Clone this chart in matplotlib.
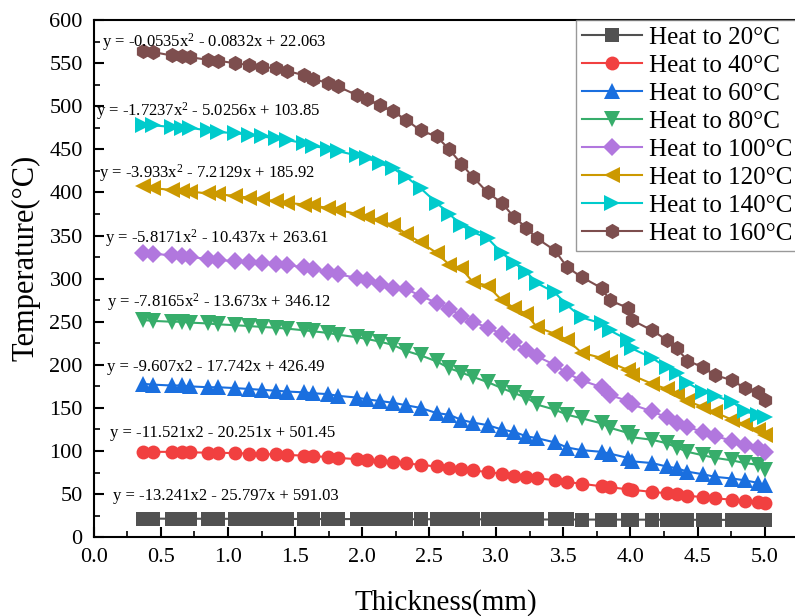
import matplotlib
matplotlib.use("Agg")
import matplotlib.pyplot as plt
from matplotlib.ticker import MultipleLocator

plt.rcParams['font.family'] = ['Liberation Serif', 'DejaVu Serif']
plt.rcParams['mathtext.fontset'] = 'custom'
plt.rcParams['mathtext.rm'] = 'Liberation Serif'
plt.rcParams['mathtext.it'] = 'Liberation Serif'

# thickness positions (mm), shared by all curves
thickness = [0.365, 0.44, 0.58, 0.655, 0.715, 0.85, 0.925, 1.05, 1.155, 1.25, 1.355, 1.44,
             1.57, 1.63, 1.745, 1.82, 1.96, 2.035, 2.13, 2.23, 2.33, 2.435, 2.555, 2.65,
             2.74, 2.825, 2.935, 3.04, 3.135, 3.225, 3.30, 3.435, 3.53, 3.635, 3.785, 3.845,
             3.98, 4.01, 4.16, 4.27, 4.345, 4.425, 4.54, 4.63, 4.76, 4.85, 4.95, 5.0]

t20 = [21.5, 21.5, 21.4, 21.4, 21.4, 21.3, 21.3, 21.3, 21.2, 21.2, 21.2, 21.1,
       21.1, 21.1, 21.0, 21.0, 21.0, 21.0, 20.9, 20.9, 20.9, 20.8, 20.8, 20.8,
       20.7, 20.7, 20.7, 20.6, 20.6, 20.6, 20.5, 20.5, 20.5, 20.4, 20.4, 20.4,
       20.3, 20.3, 20.3, 20.2, 20.2, 20.2, 20.1, 20.1, 20.0, 20.0, 19.8, 19.5]
t40 = [99, 99, 99, 98.5, 98.5, 98, 98, 97.5, 97, 96.5, 96, 95.5,
       94.5, 94, 93, 92, 90.5, 89.5, 88, 87, 85.5, 84, 82, 80.5,
       79, 77.5, 75.5, 73.5, 71.5, 70, 68.5, 66, 64, 62, 59, 58,
       55.5, 55, 52.5, 51, 49.5, 48, 46.5, 45, 43.5, 42, 41, 40]
t60 = [178, 177, 176, 176, 175, 174, 174, 173, 172, 171, 170, 169,
       168, 167, 166, 164, 162, 160, 158, 156, 153, 150, 144, 142,
       136, 133, 130, 125, 122, 117, 115, 110, 104, 101, 99, 97,
       92, 88, 86, 82, 80, 76, 73, 70, 68, 66, 63, 60]
t80 = [252, 251, 250, 250, 249, 248, 247, 246, 245, 244, 243, 242,
       240, 239, 237, 235, 232, 230, 227, 223, 216, 211, 204, 196,
       191, 186, 180, 173, 167, 162, 154, 148, 142, 138, 132, 127,
       121, 116, 113, 109, 104, 99, 95, 92, 89, 86, 84, 78]
t100 = [330, 329, 327, 326, 325, 323, 322, 320, 319, 318, 317, 316,
        313, 311, 308, 305, 301, 298, 294, 289, 288, 280, 272, 265,
        257, 250, 243, 236, 226, 217, 210, 200, 190, 182, 174, 165,
        158, 154, 146, 139, 133, 128, 122, 117, 112, 107, 103, 99]
t120 = [407, 405, 403, 402, 401, 399, 398, 396, 394, 392, 390, 388,
        386, 385, 382, 380, 375, 372, 368, 362, 352, 342, 330, 316,
        312, 296, 292, 275, 266, 259, 244, 236, 229, 214, 208, 203,
        194, 188, 178, 172, 166, 158, 151, 145, 136, 131, 124, 119]
t140 = [478, 478, 476, 475, 475, 472, 470, 469, 467, 465, 463, 461,
        457, 454, 451, 448, 443, 440, 434, 428, 418, 405, 388, 375,
        362, 354, 347, 330, 318, 308, 295, 284, 269, 255, 248, 240,
        229, 219, 208, 197, 190, 179, 169, 164, 157, 146, 142, 139]
t160 = [564, 563, 559, 558, 557, 554, 553, 550, 548, 546, 544, 541,
        536, 532, 527, 523, 513, 509, 501, 494, 484, 472, 465, 450,
        433, 418, 400, 388, 371, 359, 347, 333, 313, 302, 289, 275,
        266, 252, 240, 229, 219, 205, 197, 188, 182, 173, 168, 159]

labels = ['Heat to 20°C', 'Heat to 40°C', 'Heat to 60°C', 'Heat to 80°C',
          'Heat to 100°C', 'Heat to 120°C', 'Heat to 140°C', 'Heat to 160°C']
equations = ['y = -0.0535x$^2$ - 0.0832x + 22.063',
             'y = -1.7237x$^2$ - 5.0256x + 103.85',
             'y = -3.933x$^2$ - 7.2129x + 185.92',
             'y = -5.8171x$^2$ - 10.437x + 263.61',
             'y = -7.8165x$^2$ - 13.673x + 346.12',
             'y = -9.607x2 - 17.742x + 426.49',
             'y = -11.521x2 - 20.251x + 501.45',
             'y = -13.241x2 - 25.797x + 591.03']
eq_x = [0.06, 0.02, 0.04, 0.08, 0.10, 0.10, 0.12, 0.14]
eq_y = [575, 494, 423, 347, 273, 198, 121, 48]

series = [t20, t40, t60, t80, t100, t120, t140, t160]
colors = ['#515151', '#F14040', '#1A6FDF', '#37AD6B', '#B177DE', '#CC9900', '#00CBCC', '#7D4E4E']
markers = ['s', 'o', '^', 'v', 'D', '<', '>', 'h']
msizes = [10, 10, 11, 11, 9, 11, 11, 11]

fig = plt.figure(figsize=(7.95, 6.16), dpi=100)
ax = fig.add_axes([0.118, 0.128, 0.886, 0.8393])

for vals, lab, c, m, ms in zip(series, labels, colors, markers, msizes):
    ax.plot(thickness, vals, color=c, marker=m, markersize=ms, linewidth=1.5,
            markeredgewidth=0, label=lab)

for tx, ty, eq in zip(eq_x, eq_y, equations):
    ax.text(tx, ty, eq, fontsize=12, va='center', ha='left')

ax.set_xlim(0, 5.25)
ax.set_ylim(0, 600)
ax.xaxis.set_minor_locator(MultipleLocator(0.25))
ax.yaxis.set_major_locator(MultipleLocator(50))
ax.yaxis.set_minor_locator(MultipleLocator(25))
ax.set_xticks([0.0, 0.5, 1.0, 1.5, 2.0, 2.5, 3.0, 3.5, 4.0, 4.5, 5.0])
ax.set_xticklabels(['0.0', '0.5', '1.0', '1.5', '2.0', '2.5', '3.0', '3.5', '4.0', '4.5', '5.0'])
ax.tick_params(which='major', direction='in', length=7, width=1.5, labelsize=16, pad=8)
ax.tick_params(which='minor', direction='in', length=4, width=1.2)
for s in ax.spines.values():
    s.set_linewidth(1.5)

ax.set_xlabel('Thickness(mm)', fontsize=21, labelpad=16)
ax.set_ylabel('Temperature(°C)', fontsize=22)
ax.yaxis.set_label_coords(-0.075, 0.54)

leg = ax.legend(loc='upper right', fontsize=18, frameon=True, fancybox=False,
                edgecolor='#808080', borderaxespad=0, handlelength=2.4,
                handletextpad=0.25, labelspacing=0.22, borderpad=0.25)
leg.get_frame().set_linewidth(1.0)

fig.savefig('out.png', dpi=100)
